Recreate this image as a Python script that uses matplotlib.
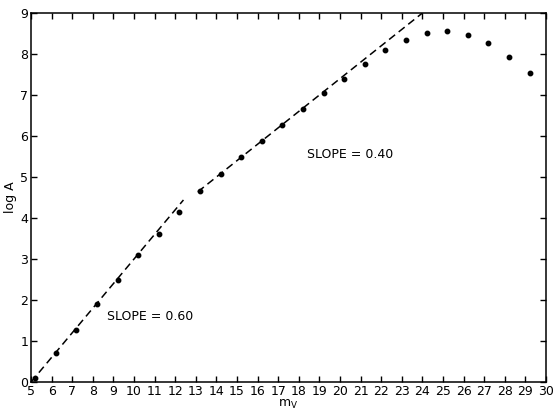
import numpy as np
import matplotlib.pyplot as plt

m_v = [5.2, 6.2, 7.2, 8.2, 9.2, 10.2, 11.2, 12.2, 13.2, 14.2, 15.2, 16.2, 17.2,
       18.2, 19.2, 20.2, 21.2, 22.2, 23.2, 24.2, 25.2, 26.2, 27.2, 28.2, 29.2]
log_a = [0.10, 0.70, 1.27, 1.91, 2.48, 3.09, 3.61, 4.14, 4.67, 5.07, 5.48, 5.88, 6.28,
         6.66, 7.06, 7.40, 7.76, 8.09, 8.35, 8.51, 8.57, 8.47, 8.28, 7.93, 7.53]

# fitted lines (end points)
fit1_x = [5.0, 12.4]
fit1_y = [0.0, 4.44]
fit2_x = [13.1, 24.0]
fit2_y = [4.64, 9.0]

fig = plt.figure(figsize=(5.6, 4.2), dpi=100)
ax = fig.add_axes([0.0554, 0.0905, 0.9196, 0.8785])

ax.plot(fit1_x, fit1_y, color="black", linestyle=(0, (5, 3)), linewidth=1.1)
ax.plot(fit2_x, fit2_y, color="black", linestyle=(0, (5, 3)), linewidth=1.1)
ax.plot(m_v, log_a, "o", color="black", markersize=3.2)

ax.text(8.7, 1.59, "SLOPE = 0.60", fontsize=9, va="center", ha="left")
ax.text(18.4, 5.56, "SLOPE = 0.40", fontsize=9, va="center", ha="left")

ax.set_xlim(5, 30)
ax.set_ylim(0, 9)
ax.set_xticks(range(5, 31))
ax.set_yticks(range(0, 10))
ax.tick_params(direction="in", length=4, width=1, top=True, right=True,
               labelsize=9, pad=2)
for s in ax.spines.values():
    s.set_linewidth(1.1)

ax.set_xlabel(r"m$_\mathregular{V}$", fontsize=9, labelpad=0)
ax.set_ylabel("log A", fontsize=9, labelpad=2)

fig.savefig("out.png", dpi=100)
